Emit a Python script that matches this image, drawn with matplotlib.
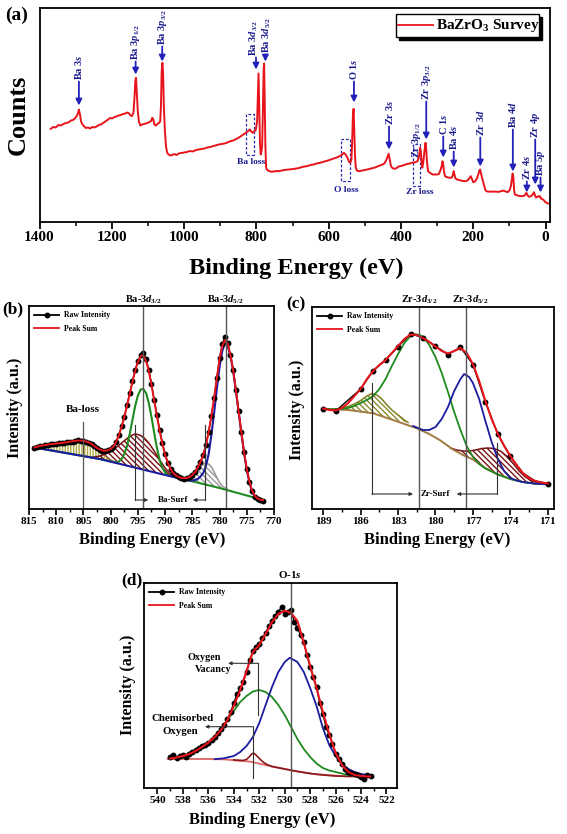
import matplotlib
matplotlib.use("Agg")
import matplotlib.pyplot as plt
from matplotlib.patches import Rectangle
from matplotlib.lines import Line2D

plt.rcParams.update({
    'font.family': ['Liberation Serif', 'DejaVu Serif'],
    'font.weight': 'bold',
    'axes.labelweight': 'bold',
    'mathtext.fontset': 'custom',
    'mathtext.rm': 'Liberation Serif:bold',
    'mathtext.it': 'Liberation Serif:italic:bold',
    'mathtext.bf': 'Liberation Serif:bold',
    'axes.linewidth': 1.3,
    'hatch.linewidth': 1.0,
})

# ---------------- (a) survey ----------------
survey_E = [1369, 1362, 1355, 1348, 1341, 1334, 1327, 1320, 1313, 1307, 1301, 1296, 1293, 1291, 1288,
            1285, 1281, 1277, 1272, 1266, 1260, 1254, 1248, 1242, 1236, 1230, 1224, 1218, 1212, 1205,
            1199, 1193, 1187, 1181, 1175, 1169, 1163, 1157, 1152, 1148, 1144, 1140, 1137, 1135, 1133,
            1131, 1128, 1125, 1121, 1116, 1111, 1106, 1101, 1096, 1091, 1088, 1085, 1082, 1078, 1074,
            1070, 1066, 1064, 1062, 1060, 1058, 1056, 1053, 1050, 1047, 1043, 1038, 1033, 1027, 1021,
            1015, 1008, 1000, 992, 984, 976, 968, 960, 952, 944, 936, 928, 920, 912, 904, 896, 888, 880,
            872, 864, 856, 848, 840, 834, 828, 822, 818, 814, 810, 806, 802, 798, 796, 794, 792, 790,
            788, 786, 784, 782, 780, 778.5, 777, 775, 773, 771, 768, 764, 758, 752, 745, 738, 730, 722,
            714, 706, 698, 690, 682, 674, 666, 658, 650, 642, 634, 626, 618, 610, 602, 594, 586, 578,
            570, 564, 558, 553, 548, 544, 540, 537, 535, 533, 531, 529, 527, 525, 522, 518, 513, 507,
            500, 493, 486, 479, 472, 465, 458, 451, 446, 441, 437, 434, 431, 428, 425, 421, 417, 412,
            406, 400, 394, 388, 382, 376, 370, 364, 359, 354, 350, 347, 345, 343, 341, 338, 335, 332,
            330, 328, 325, 321, 317, 312, 306, 300, 295, 290, 287, 285, 283, 281, 278, 274, 269, 264,
            259, 256, 254, 252, 249, 245, 240, 234, 228, 222, 216, 211, 207, 204, 200, 195, 190, 186,
            183, 181, 179, 176, 173, 170, 167, 164, 160, 155, 150, 145, 140, 134, 128, 122, 116, 110,
            105, 100, 96, 93, 91, 89, 87, 85, 81, 77, 72, 67, 62, 58, 55, 53, 51, 48, 45, 42, 38, 35,
            32, 30, 28, 26, 23, 20, 17, 15, 13, 10, 7, 4, 1, -3, -7]
survey_counts = [92.7, 94.5, 94, 96.5, 96, 97.5, 98.5, 99, 101, 101.5, 103.5, 106, 109, 112, 107,
                 100, 97, 95.5, 93.5, 94, 93, 94.5, 94, 95, 96.5, 97, 98.5, 100, 101.5, 103.5,
                 103, 104.5, 105, 106, 106.5, 107.5, 108, 109, 108, 106, 105.5, 109, 125, 140, 143.7,
                 130, 110, 100, 96, 97, 97.5, 98, 98.5, 99.5, 100.5, 103.7, 102, 97, 96, 97.5,
                 98.5, 100, 115, 150, 158.7, 148, 115, 90, 75, 69, 67, 66, 66.5, 67.5, 66.5,
                 68, 68.5, 69, 69.5, 70.5, 70, 71.3, 72, 72.5, 73, 74, 74.5, 75.3, 76, 77, 77.5, 78, 79,
                 80.3, 81, 82.5, 84, 86, 87.5, 89, 90.5, 92, 90, 88.7, 90.3, 91, 100, 125, 148, 115, 78,
                 67, 70, 76, 110, 150, 158, 125, 75, 54, 52, 51, 50.5, 49.7, 50, 50.5, 50.3, 51, 51.5,
                 51.8, 52, 52.5, 53, 53.5, 54.5, 55, 55.5, 56.5, 57, 58, 58.5, 59.3, 60, 61, 62, 63, 64,
                 65.3, 66.5, 68.7, 67, 63.7, 60, 58.7, 62, 80, 105, 112.7, 90, 65, 54, 51, 50.3, 50.5, 51,
                 51.5, 52, 52.7, 53.5, 54, 55, 56, 57, 58, 61, 65, 67.7, 62, 56, 54, 53, 52.7, 53.5,
                 55, 55.5, 56, 57, 57.5, 58, 58.7, 59, 59.5, 60.3, 65, 73.7, 70, 60, 53.7, 60, 70, 78.7,
                 72, 60, 50.3, 49, 48, 47, 47, 47, 47.5, 52, 56, 60.3, 57, 50, 45.3, 44.5, 44, 43.7,
                 44, 47, 50.3, 47, 43, 42, 41.5, 41, 40.5, 40.3, 41, 43, 45.3, 43, 39.3, 40, 43, 47,
                 51, 52, 49, 44, 40.3, 36, 32, 30.3, 30, 29.8, 30, 29.7, 30, 29.7, 29.7, 30.5, 30.8, 30,
                 29.3, 31, 35, 43, 48, 44, 32, 27, 26.5, 26, 25.5, 25.3, 25.5, 26, 27.5, 28.7, 27, 25.5, 24.7, 25, 26, 27.5,
                 29.3, 27, 25, 24, 24.5, 25.3, 25, 25.3, 23, 22.5, 22, 21, 19.5, 18.7, 18]

peak_labels = ['Ba $\\mathit{3s}$', 'Ba $\\mathit{3p}_{\\mathit{1/2}}$', 'Ba $\\mathit{3p}_{\\mathit{3/2}}$',
               'Ba $\\mathit{3d}_{\\mathit{3/2}}$', 'Ba $\\mathit{3d}_{\\mathit{5/2}}$', 'O $\\mathit{1s}$',
               'Zr $\\mathit{3s}$', 'Zr $\\mathit{3p}_{\\mathit{3/2}}$', 'C $\\mathit{1s}$', 'Ba $\\mathit{4s}$',
               'Zr $\\mathit{3d}$', 'Ba $\\mathit{4d}$', 'Zr $\\mathit{4s}$', 'Zr $\\mathit{4p}$', 'Ba $\\mathit{5p}$']
peak_E = [1291, 1134, 1060.5, 801, 775, 530, 433, 330, 283, 254, 180.5, 90.4, 51.7, 28.5, 13.8]
label_E = [1291, 1134, 1060.5, 806, 770, 530, 433, 330, 283, 254, 180.5, 90.4, 51.7, 28.5, 13.8]
arrow_top = [140, 160, 175, 164, 167, 140, 95, 120, 85, 70, 84, 92, 40, 82, 44]
arrow_tip = [116, 147, 160, 152, 160, 119, 72, 82, 64, 54, 55, 50, 29, 37, 29]

loss_labels = ['Ba loss', 'O loss', 'Zr loss']
loss_E_hi = [829, 565, 367]
loss_E_lo = [806, 540, 348]
loss_h_lo = [66.3, 40.3, 36]
loss_h_hi = [108, 82.7, 78]
loss_text_E = [815, 552, 349]
loss_text_h = [59, 32, 30]

# ---------------- (b) Ba 3d ----------------
b_raw_E = [814, 813.5, 813, 812.5, 812, 811.5, 811, 810.5, 810, 809.5, 809, 808.5, 808, 807.5, 807, 806.5,
           806, 805.5, 805, 804.5, 804, 803.5, 803, 802.5, 802, 801.5, 801, 800.5, 800, 799.5, 799, 798.5,
           798, 797.5, 797, 796.5, 796, 795.5, 795, 794.5, 794, 793.5, 793, 792.5, 792, 791.5, 791, 790.5,
           790, 789.5, 789, 788.5, 788, 787.5, 787, 786.5, 786, 785.5, 785, 784.5, 784, 783.5, 783, 782.5,
           782, 781.5, 781, 780.5, 780, 779.5, 779, 778.5, 778, 777.5, 777, 776.5, 776, 775.5, 775, 774.5,
           774, 773.5, 773, 772.5, 772]
b_raw_I = [61.5, 62.5, 63.5, 63.5, 64.5, 64, 65, 65.5, 65, 66, 66.5, 66, 67, 67.5, 67.5, 68.5,
           69, 68, 68.5, 67.5, 66.5, 65, 63.5, 61, 59.5, 58.5, 58.5, 59, 60, 62.5, 67.5, 74,
           83, 92, 104, 116, 128, 139, 148, 154, 156, 150, 139, 125, 109, 94, 79, 66,
           55, 46.5, 40, 36.5, 34, 32, 31, 30.5, 31, 32.5, 34.5, 37.5, 42, 47.5, 54.5, 64,
           77.5, 93, 111, 131, 151, 165, 172, 166, 154, 139, 119, 98, 77, 57, 40, 27,
           18, 12.5, 10.5, 9, 8.5]
b_sum_E = [814, 813, 812, 811, 810, 809, 808, 807, 806, 805, 804, 803.5, 803, 802.5, 802, 801.5, 801,
           800.5, 800, 799.5, 799, 798.5, 798, 797.5, 797, 796.5, 796, 795.5, 795, 794.5, 794.2, 794,
           793.5, 793, 792.5, 792, 791.5, 791, 790.5, 790, 789.5, 789, 788.5, 788, 787.5, 787, 786.5,
           786, 785.5, 785, 784.5, 784, 783.5, 783, 782.5, 782, 781.5, 781, 780.5, 780, 779.5, 779,
           778.5, 778, 777.5, 777, 776.5, 776, 775.5, 775, 774.5, 774, 773.5, 773, 772.5, 772]
b_sum_I = [61.5, 63, 64, 64.8, 65.5, 66, 66.8, 67.8, 68.5, 68.3, 66.5, 65, 63, 61, 59.5, 58.5, 58.3,
           58.8, 60, 62.5, 67, 73.5, 82, 92, 103, 115, 127, 138, 147, 152.5, 153.5, 153,
           148, 138, 124, 108, 93, 78, 65, 54, 46, 40, 36, 33.5, 32, 31, 30.8,
           31, 32, 34, 37, 41.5, 47, 54, 64, 77, 93, 111, 131, 150, 163, 169,
           165, 154, 139, 119, 98, 77, 57, 40, 27, 18, 13, 10.5, 9.3, 9]
b_green_E = [814, 802, 799.5, 799, 798.5, 798, 797.5, 797, 796.5, 796, 795.5, 795, 794.5, 794, 793.5, 793,
             792.5, 792, 791.5, 791, 790.5, 790, 789.5, 789, 786, 780, 772]
b_green_I = [61.5, 50, 47, 46.5, 47.5, 50, 55, 63, 75, 89, 103, 113.5, 119.5, 120, 116, 106,
             92, 76, 61, 49, 41, 36.5, 34, 33, 29, 21, 9]
b_blue_E = [814, 802, 790, 786.5, 786, 785.5, 785, 784.5, 784, 783.5, 783, 782.5, 782, 781.5, 781, 780.5,
            780, 779.5, 779, 778.5, 778, 777.5, 777, 776.5, 776, 775.5, 775, 774.5, 774, 773.5, 773,
            772.5, 772]
b_blue_I = [61.5, 50, 34, 29.5, 29, 28.5, 28.5, 29, 30, 32.5, 36, 43, 55, 74, 96, 120,
            142, 158, 166, 163, 153, 138, 118, 97, 76, 56, 39, 26, 17, 12, 10,
            9.3, 9]
b_loss_E = [814, 813, 812, 811, 810, 809, 808, 807, 806, 805.5, 805, 804.5, 804, 803.5, 803, 802.5, 802,
            801.5, 801, 800.5, 800, 799.5, 799]
b_loss_I = [61.5, 62.5, 63.5, 64.3, 65, 65.8, 66.5, 67.5, 68.5, 69, 68.8, 68, 67, 65.5, 63.5, 61, 58.5,
            56, 53.5, 51, 49, 47.5, 46.5]
b_loss_base_E = [799, 806.5, 814]
b_loss_base_I = [46.5, 54.3, 61.5]
b_surf1_E = [803.5, 803, 802, 801, 800, 799, 798, 797, 796.5, 796, 795.5, 795, 794.5, 794, 793, 792, 791,
             790, 789, 788.5]
b_surf1_I = [51.5, 52, 53, 55, 57.5, 61.5, 66, 70.5, 72.5, 74, 75, 74.5, 73.5, 72, 66, 58, 49,
             41, 35, 33]
b_surf1_base_E = [788.5, 790, 802, 803.5]
b_surf1_base_I = [32, 34, 50, 51.5]
b_surf2_E = [787.5, 787, 786, 785, 784, 783.5, 783, 782.5, 782, 781.5, 781, 780.5, 780, 779.5, 779, 778.5]
b_surf2_I = [30.5, 30.8, 31.5, 34, 39, 42.5, 45, 46, 45, 42, 37, 31.5, 26.5, 23, 21, 19.5]
b_surf2_base_E = [778.5, 780, 787.5]
b_surf2_base_I = [19.3, 21, 30.5]

# ---------------- (c) Zr 3d ----------------
c_raw_E = [189, 188, 186, 185, 184, 183, 182, 181, 180, 179, 178, 177, 176, 175, 174, 173, 172, 171]
c_raw_I = [100.5, 98, 120, 138.3, 149, 162.3, 175, 171.5, 163, 154.5, 161.8, 144.5, 107, 74.7, 52.7, 36,
           28, 25.5]
c_sum_E = [189, 188.5, 188, 187.5, 187, 186.5, 186, 185.5, 185, 184.5, 184, 183.5, 183, 182.5, 182, 181.5,
           181, 180.5, 180, 179.5, 179, 178.5, 178, 177.5, 177, 176.5, 176, 175.5, 175, 174.5, 174, 173.5,
           173, 172.5, 172, 171.5, 171]
c_sum_I = [100.5, 99, 98.5, 101, 106, 113, 120, 130, 138, 144, 149, 156, 163, 170, 174.5, 174,
           171, 167, 162.5, 158, 155.5, 158, 161, 156, 145, 128, 108, 90, 75, 63, 53, 44,
           36, 31, 28, 26.5, 25.5]
c_green_E = [189, 188, 187, 186.5, 186, 185.5, 185, 184.5, 184, 183.5, 183, 182.5, 182, 181.7, 181.3, 181,
             180.5, 180, 179.5, 179, 178.5, 178, 177.5, 177, 176.5, 176, 175, 174, 173, 172, 171]
c_green_I = [100.3, 99.5, 101, 103, 106, 109, 113, 120, 130, 143, 155, 166, 173, 175, 174, 172.5,
             164, 152, 136, 117, 97, 79, 63, 52, 45, 40.5, 34.5, 30, 27, 25.3, 24.7]
c_blue_E = [181.8, 181.5, 181, 180.5, 180, 179.5, 179, 178.5, 178, 177.7, 177.3, 177, 176.5, 176, 175.5,
            175, 174.5, 174, 173.5, 173, 172, 171]
c_blue_I = [83, 81.5, 79, 79, 82, 90, 102, 118, 130, 135, 132, 126, 110, 88, 67,
            50, 38, 31, 28.5, 27, 25.3, 24.7]
c_base_E = [189, 187, 185, 183.4, 181.5, 180.5, 179.6, 178.6, 177.8, 177, 176, 175, 174, 173, 172, 171]
c_base_I = [100.3, 99, 95.7, 89, 80.7, 75, 68.5, 59.5, 54, 49.5, 41, 34.5, 30, 27, 25.3, 24.7]
c_surf1_E = [188.5, 188, 187.5, 187, 186.5, 186, 185.5, 185.1, 184.7, 184.3, 184, 183.5, 183, 182.5, 182.2]
c_surf1_I = [99.8, 100, 101, 102.5, 105, 108.5, 113, 115.5, 114, 110, 105.5, 99, 94, 89, 86.5]
c_surf1_base_E = [182.2, 183.4, 185, 187, 188.5]
c_surf1_base_I = [86.5, 89, 95.7, 99, 99.8]
c_surf2_E = [178.8, 178.3, 177.8, 177.3, 176.8, 176.3, 175.8, 175.3, 174.8, 174.3, 173.8, 173.3, 172.8,
             172.3, 171.8, 171.3, 171]
c_surf2_I = [61, 59, 58, 58, 59, 60.5, 61, 60.5, 58, 53, 46, 38, 32, 28, 26, 25.2, 25]
c_surf2_base_E = [171, 172, 173, 174, 175, 176, 177, 177.8, 178.8]
c_surf2_base_I = [24.7, 25.3, 27, 30, 34.5, 41, 49.5, 54, 60.5]

# ---------------- (d) O 1s ----------------
d_raw_E = [539, 538.75, 538.5, 538.25, 538, 537.75, 537.5, 537.25, 537, 536.75, 536.5, 536.25, 536,
           535.75, 535.5, 535.25, 535, 534.75, 534.5, 534.25, 534, 533.75, 533.5, 533.25, 533, 532.75,
           532.5, 532.25, 532, 531.75, 531.5, 531.25, 531, 530.75, 530.5, 530.25, 530, 529.75, 529.5,
           529.25, 529, 528.75, 528.5, 528.25, 528, 527.75, 527.5, 527.25, 527, 526.75, 526.5, 526.25,
           526, 525.75, 525.5, 525.25, 525, 524.75, 524.5, 524.25, 524, 523.75, 523.5, 523.25]
d_raw_I = [31, 33, 30, 32, 33, 31.5, 34, 36, 38, 40, 42, 43.5, 45.5,
           48, 51.5, 55, 59, 63, 69, 76, 85, 94, 100, 106, 116, 128,
           137, 141, 144, 150, 155, 162, 167, 172, 176, 181, 174, 176, 178,
           166, 160, 153, 146, 133, 121, 111, 101, 85, 74, 61, 53, 44,
           34, 29, 24, 19, 16.5, 15, 14, 13, 11, 9, 13, 12]
d_sum_E = [539, 538.5, 538, 537.5, 537, 536.5, 536, 535.5, 535, 534.5, 534, 533.5, 533, 532.5, 532, 531.5,
           531, 530.5, 530, 529.5, 529, 528.5, 528, 527.5, 527, 526.5, 526, 525.5, 525, 524.5, 524,
           523.5, 523.3]
d_sum_I = [29.5, 30.5, 32, 34, 37, 41, 45.5, 51, 58, 68, 82, 98, 117, 136, 143, 154,
           166, 174, 177.5, 175, 167, 145, 122, 100, 76, 54, 35, 23, 16, 13, 12,
           11.5, 11.5]
d_green_E = [539, 538, 537, 536, 535.5, 535, 534.5, 534, 533.5, 533, 532.5, 532, 531.5, 531, 530.5, 530,
             529.5, 529, 528.5, 528, 527.5, 527, 526.5, 526, 525.5, 525, 524, 523.3]
d_green_I = [29, 32, 38, 45, 52, 59, 68, 77, 86, 92, 96.5, 98, 96, 91, 83, 73,
             61, 49, 39, 31, 24.5, 20, 17.5, 16, 14.5, 13, 12, 12]
d_blue_E = [535.5, 534.8, 534, 533.5, 533, 532.5, 532, 531.5, 531, 530.5, 530, 529.6, 529, 528.5, 528,
            527.5, 527, 526.5, 526, 525.5, 525, 524.5, 524, 523.5]
d_blue_I = [28.8, 29.7, 32, 36, 42, 51, 65, 83, 101, 116, 126, 130.3, 126, 116, 100,
            82, 60, 43, 32, 24, 19, 16, 14, 13]
d_base_E = [539.2, 536, 534.8, 532.7, 530.9, 529.6, 527.75, 525.65, 523.3]
d_base_I = [29, 29, 28.7, 26.3, 21.3, 18, 14, 12, 12]
d_chem_E = [534, 533.3, 533, 532.8, 532.6, 532.45, 532.3, 532, 531.7, 531.4, 531, 530, 529, 528, 527,
            526, 525, 523.3]
d_chem_I = [28, 27.5, 28.5, 31, 34, 35, 33.5, 29.5, 26, 23.5, 21.5, 19, 16.5, 14.5, 13, 12, 11.5, 11.5]

RED = '#e8141c'
GREEN = '#1f8a1f'
BLUE = '#1c1ca0'
NAVY = '#1a1a8e'
GREY = '#555555'

fig = plt.figure(figsize=(5.67, 8.34), dpi=100)


def fy(py):
    return 1 - py / 834.0


def fx(px):
    return px / 567.0


# ================= panel (a) =================
axa = fig.add_axes([fx(39.5), fy(221.5), fx(510), 214 / 834.0])
axa.plot(survey_E, survey_counts, color=RED, lw=1.4)
axa.set_xlim(1400, -11)
axa.set_ylim(0, 214)
axa.set_yticks([])
axa.set_xticks(range(0, 1401, 200))
axa.set_xticks(range(100, 1400, 200), minor=True)
axa.tick_params(axis='x', which='major', direction='out', length=5, width=1.3, labelsize=11, pad=2)
axa.tick_params(axis='x', which='minor', direction='out', length=3, width=1.1)
for lab, e, le, t, tip in zip(peak_labels, peak_E, label_E, arrow_top, arrow_tip):
    axa.annotate('', xy=(e, tip), xytext=(e, t),
                 arrowprops=dict(arrowstyle='-|>', color='#2222bb', lw=1.3, mutation_scale=9,
                                 shrinkA=0, shrinkB=0))
    axa.text(le, t + 1.5, lab, rotation=90, ha='center', va='bottom', color=NAVY, fontsize=7.5)
axa.text(356, 64, 'Zr $\\mathit{3p}_{\\mathit{1/2}}$', rotation=90, ha='center', va='bottom',
         color=NAVY, fontsize=7.5)
for lab, e1, e0, h0, h1, te, th in zip(loss_labels, loss_E_hi, loss_E_lo, loss_h_lo, loss_h_hi,
                                      loss_text_E, loss_text_h):
    axa.add_patch(Rectangle((e0, h0), e1 - e0, h1 - h0, fill=False, edgecolor='#2a2ab0', lw=0.9,
                            linestyle=(0, (2.2, 1.5))))
    axa.text(te, th, lab, ha='center', va='center', color=NAVY, fontsize=6.8)
# legend (a)
axa.add_patch(Rectangle((0.7046, 0.848), 0.2807, 0.1075, transform=axa.transAxes, facecolor='black',
                        edgecolor='black', lw=1, zorder=5))
axa.add_patch(Rectangle((0.6987, 0.8621), 0.2807, 0.1075, transform=axa.transAxes, facecolor='white',
                        edgecolor='black', lw=1, zorder=6))
axa.plot([0.703, 0.7706], [0.916, 0.916], transform=axa.transAxes, color=RED, lw=1.3, zorder=7)
axa.text(0.7776, 0.914, 'BaZrO$_\\mathbf{3}$ Survey', transform=axa.transAxes, ha='left', va='center',
         fontsize=11, zorder=7)
fig.text(fx(18), fy(114.5), 'Counts', rotation=90, ha='center', va='center', fontsize=19)
fig.text(fx(296), fy(268), 'Binding Energy (eV)', ha='center', va='center', fontsize=17.5)
fig.text(fx(17), fy(15), '(a)', ha='center', va='center', fontsize=14)


def hfill(ax, E_up, I_up, E_lo, I_lo, color, hatch, edge):
    ax.fill(list(E_up) + list(E_lo), list(I_up) + list(I_lo), facecolor='none', edgecolor=color,
            hatch=hatch, linewidth=0)
    ax.plot(E_up, I_up, color=edge, lw=1.1)


def small_legend(ax):
    h = [Line2D([], [], color='black', marker='o', ms=3.2, lw=1.3),
         Line2D([], [], color=RED, lw=1.3)]
    ax.legend(h, ['Raw Intensity', 'Peak Sum'], loc='upper left', frameon=False,
              prop={'size': 5.6, 'weight': 'bold'}, handlelength=3.2, handletextpad=0.6,
              borderaxespad=0.3, labelspacing=0.7, numpoints=1)


def arrow(ax, x0, x1, y):
    ax.annotate('', xy=(x1, y), xytext=(x0, y),
                arrowprops=dict(arrowstyle='-|>', color='#333333', lw=0.8, mutation_scale=5,
                                shrinkA=0, shrinkB=0))


# ================= panel (b) =================
axb = fig.add_axes([fx(29), fy(509), fx(245), 203 / 834.0])
hfill(axb, b_loss_E, b_loss_I, b_loss_base_E, b_loss_base_I, '#b0a840', '||||||', '#9b6a3c')
hfill(axb, b_surf1_E, b_surf1_I, b_surf1_base_E, b_surf1_base_I, '#7a1414', '\\\\\\\\\\\\', '#7a1414')
hfill(axb, b_surf2_E, b_surf2_I, b_surf2_base_E, b_surf2_base_I, '#999999', '\\\\\\\\\\\\', '#999999')
axb.plot(b_green_E, b_green_I, color=GREEN, lw=1.5)
axb.plot(b_blue_E, b_blue_I, color=BLUE, lw=1.5)
axb.plot(b_raw_E, b_raw_I, color='black', marker='o', ms=3.2, lw=1.0)
axb.plot(b_sum_E, b_sum_I, color=RED, lw=1.4)
for e in [794.0, 778.9]:
    axb.plot([e, e], [0, 203], color=GREY, lw=1.0)
axb.plot([805.1, 805.1], [0, 87], color=GREY, lw=0.9)
axb.text(805.1, 99, 'Ba-loss', ha='center', va='center', fontsize=8)
axb.plot([795.5, 795.5], [9, 84], color='#333333', lw=0.8)
axb.plot([782.7, 782.7], [9, 84], color='#333333', lw=0.8)
arrow(axb, 795.5, 793.1, 9)
arrow(axb, 782.7, 784.9, 9)
axb.text(788.6, 9, 'Ba-Surf', ha='center', va='center', fontsize=6.5)
axb.text(794.0, 209, 'Ba-$\\mathit{3d}_{\\mathit{3/2}}$', ha='center', va='center', fontsize=7.5,
         clip_on=False)
axb.text(778.9, 209, 'Ba-$\\mathit{3d}_{\\mathit{5/2}}$', ha='center', va='center', fontsize=7.5,
         clip_on=False)
axb.set_xlim(815, 770)
axb.set_ylim(0, 203)
axb.set_yticks([])
axb.set_xticks(range(770, 816, 5))
axb.set_xticks([772.5 + 5 * i for i in range(9)], minor=True)
axb.tick_params(axis='x', which='major', direction='out', length=4, width=1.2, labelsize=8, pad=2)
axb.tick_params(axis='x', which='minor', direction='out', length=2.5, width=1.0)
small_legend(axb)
fig.text(fx(15), fy(408), 'Intensity (a.u.)', rotation=90, ha='center', va='center', fontsize=11.5)
fig.text(fx(152), fy(540), 'Binding Energy (eV)', ha='center', va='center', fontsize=12)
fig.text(fx(13), fy(309), '(b)', ha='center', va='center', fontsize=12.5)

# ================= panel (c) =================
axc = fig.add_axes([fx(312), fy(509), fx(242), 202 / 834.0])
hfill(axc, c_surf1_E, c_surf1_I, c_surf1_base_E, c_surf1_base_I, '#8a8a30', '\\\\\\\\\\\\', '#808020')
hfill(axc, c_surf2_E, c_surf2_I, c_surf2_base_E, c_surf2_base_I, '#7a1414', '\\\\\\\\\\\\', '#7a1414')
axc.plot(c_base_E, c_base_I, color='#a07a40', lw=1.4)
axc.plot(c_green_E, c_green_I, color=GREEN, lw=1.3)
axc.plot(c_blue_E, c_blue_I, color=BLUE, lw=1.3)
axc.plot(c_raw_E[:15], c_raw_I[:15], color='black', marker='o', ms=3.2, lw=1.0)
axc.plot(c_raw_E[14:], c_raw_I[14:], color='black', lw=1.0)
axc.plot(c_raw_E[-1:], c_raw_I[-1:], color='black', marker='o', ms=3.2, lw=0)
axc.plot(c_sum_E, c_sum_I, color=RED, lw=1.5)
for e in [181.3, 177.55]:
    axc.plot([e, e], [0, 202], color=GREY, lw=1.0)
axc.plot([185.1, 185.1], [15, 125.7], color='#333333', lw=0.8)
axc.plot([175.05, 175.05], [15, 65.7], color='#333333', lw=0.8)
arrow(axc, 185.1, 181.8, 15)
arrow(axc, 175.05, 178.3, 15)
axc.text(180.0, 15, 'Zr-Surf', ha='center', va='center', fontsize=6.5)
axc.text(181.3, 209, 'Zr-$\\mathit{3d}_{\\mathit{3/2}}$', ha='center', va='center', fontsize=7.5,
         clip_on=False)
axc.text(177.24, 209, 'Zr-$\\mathit{3d}_{\\mathit{5/2}}$', ha='center', va='center', fontsize=7.5,
         clip_on=False)
axc.set_xlim(189.9, 170.5)
axc.set_ylim(0, 202)
axc.set_yticks([])
axc.set_xticks(range(171, 190, 3))
axc.set_xticks([172.5 + 3 * i for i in range(6)], minor=True)
axc.tick_params(axis='x', which='major', direction='out', length=4, width=1.2, labelsize=8, pad=2)
axc.tick_params(axis='x', which='minor', direction='out', length=2.5, width=1.0)
small_legend(axc)
fig.text(fx(296.5), fy(409.5), 'Intensity (a.u.)', rotation=90, ha='center', va='center', fontsize=11.5)
fig.text(fx(437), fy(539.5), 'Binding Energy (eV)', ha='center', va='center', fontsize=12)
fig.text(fx(296), fy(304), '(c)', ha='center', va='center', fontsize=12.5)

# ================= panel (d) =================
axd = fig.add_axes([fx(144), fy(788), fx(253.3), 205 / 834.0])
axd.plot(d_base_E, d_base_I, color='#e07070', lw=1.4)
axd.plot(d_chem_E, d_chem_I, color='#8b1a1a', lw=1.2)
axd.plot(d_green_E, d_green_I, color=GREEN, lw=1.3)
axd.plot(d_blue_E, d_blue_I, color=BLUE, lw=1.3)
axd.plot(d_raw_E, d_raw_I, color='black', marker='o', ms=3.2, lw=1.0)
axd.plot(d_sum_E, d_sum_I, color=RED, lw=1.5)
axd.plot([529.5, 529.5], [0, 205], color=GREY, lw=1.0)
axd.plot([532.1, 532.1], [73, 124.7], color='#333333', lw=0.8)
arrow(axd, 532.1, 534.45, 124.7)
axd.plot([532.47, 532.47], [9.7, 61.3], color='#333333', lw=0.8)
arrow(axd, 532.47, 536.27, 61.3)
axd.text(536.3, 131, 'Oxygen', ha='center', va='center', fontsize=7.3)
axd.text(535.6, 118, 'Vacancy', ha='center', va='center', fontsize=7.3)
axd.text(538.0, 69.7, 'Chemisorbed', ha='center', va='center', fontsize=7.8)
axd.text(538.2, 56.3, 'Oxygen', ha='center', va='center', fontsize=7.8)
axd.text(529.6, 213, 'O-$\\mathit{1s}$', ha='center', va='center', fontsize=8, clip_on=False)
axd.set_xlim(541.06, 521.15)
axd.set_ylim(0, 205)
axd.set_yticks([])
axd.set_xticks(range(522, 541, 2))
axd.set_xticks(range(523, 541, 2), minor=True)
axd.tick_params(axis='x', which='major', direction='out', length=4, width=1.2, labelsize=8, pad=2)
axd.tick_params(axis='x', which='minor', direction='out', length=2.5, width=1.0)
small_legend(axd)
fig.text(fx(128), fy(685), 'Intensity (a.u.)', rotation=90, ha='center', va='center', fontsize=11.5)
fig.text(fx(262.5), fy(820), 'Binding Energy (eV)', ha='center', va='center', fontsize=12)
fig.text(fx(132), fy(580), '(d)', ha='center', va='center', fontsize=12.5)

fig.savefig('out.png', dpi=100)
